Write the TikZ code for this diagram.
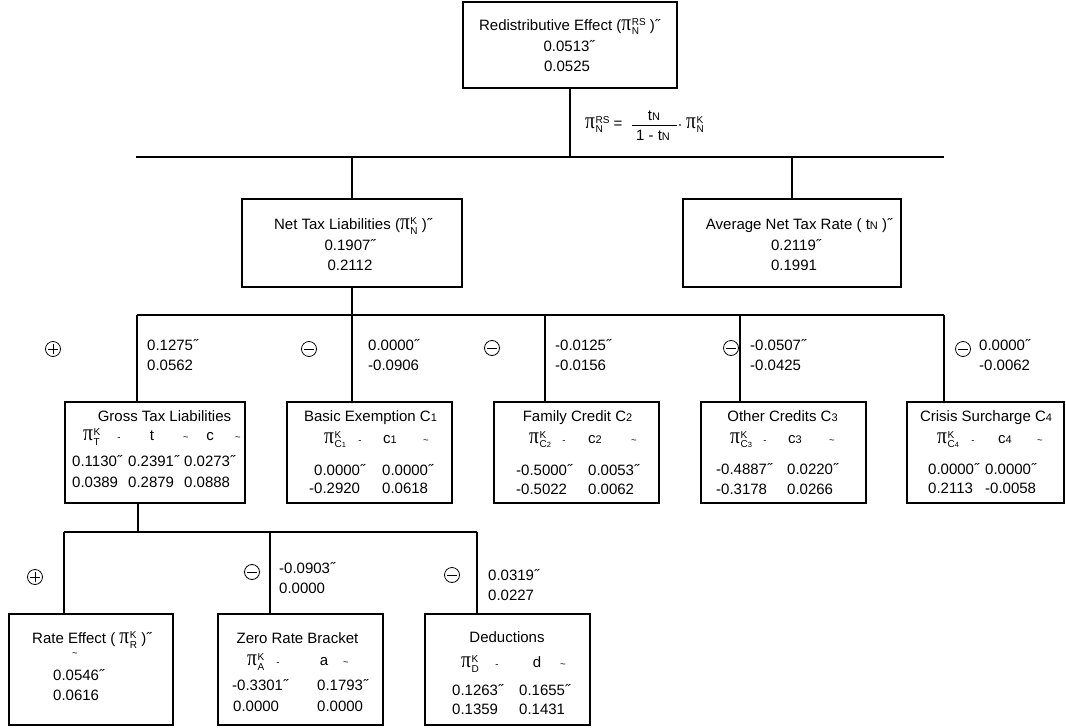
\documentclass[tikz,border=0pt]{standalone}
\usepackage{fontspec}
\setmainfont{Liberation Sans}
\newfontfamily\pifont{Liberation Serif}
\usepackage{graphicx}
\newcommand{\Fz}{\fontsize{15}{18}\selectfont}
\newcommand{\ssz}{\fontsize{10}{7.5}\selectfont}
\newcommand{\msz}{\fontsize{9.5}{9.5}\selectfont}
\newcommand{\pig}{{\pifont\scalebox{1.3}[1.55]{π}}}
\newcommand{\PIS}[2]{\pig\kern0.6pt\raisebox{-4.5pt}{\ssz\begin{tabular}[b]{@{}l@{}}#1\\#2\end{tabular}}}
\newcommand{\sN}[1]{{\fontsize{11}{12}\selectfont #1}}
\newcommand{\sNs}[1]{{\fontsize{7.5}{7.5}\selectfont #1}}
\newcommand{\dsh}{{\msz -}}
\newcommand{\tld}{{\msz\textasciitilde}}
\begin{document}
\begin{tikzpicture}[x=1pt,y=-1pt,
  bx/.style={draw, line width=1.3pt, inner sep=0pt},
  ln/.style={line width=1.3pt},
  tx/.style={font=\Fz, inner sep=0pt, text height=11pt, text depth=0pt},
  sg/.style={circle, draw, line width=0.8pt, minimum size=15pt, inner sep=0pt},
  pl/.style={sg, path picture={\draw[line width=0.8pt] ([xshift=-5pt]path picture bounding box.center) -- ([xshift=5pt]path picture bounding box.center) ([yshift=-5pt]path picture bounding box.center) -- ([yshift=5pt]path picture bounding box.center);}},
  mi/.style={sg, path picture={\draw[line width=0.8pt] ([xshift=-5pt]path picture bounding box.center) -- ([xshift=5pt]path picture bounding box.center);}}]
\fill[white] (0,0) rectangle (1066,728);
\useasboundingbox (0,0) rectangle (1066,728);

% boxes
\node[bx, minimum width=214pt, minimum height=86pt] (top) at (570,45) {};
\node[bx, minimum width=220pt, minimum height=88pt] (net) at (352,243) {};
\node[bx, minimum width=218pt, minimum height=88pt] (avg) at (792,243) {};
\node[bx, minimum width=180pt, minimum height=101pt] (gross) at (155,452.5) {};
\node[bx, minimum width=165pt, minimum height=101pt] (basic) at (369.5,452.5) {};
\node[bx, minimum width=165pt, minimum height=101pt] (family) at (576.5,452.5) {};
\node[bx, minimum width=165pt, minimum height=101pt] (other) at (783.5,452.5) {};
\node[bx, minimum width=157pt, minimum height=101pt] (crisis) at (985.5,452.5) {};
\node[bx, minimum width=164pt, minimum height=111pt] (rate) at (91,669.5) {};
\node[bx, minimum width=165pt, minimum height=111pt] (zero) at (300.5,669.5) {};
\node[bx, minimum width=165pt, minimum height=111pt] (ded) at (507.5,669.5) {};

% level 1 -> 2
\coordinate (h1l) at (136,157);
\coordinate (h1r) at (944,157);
\draw[ln] (top.south) -- (top.south |- h1l);
\draw[ln] (h1l) -- (h1r);
\draw[ln] (net.north |- h1l) -- (net.north);
\draw[ln] (avg.north |- h1l) -- (avg.north);

% level 2 -> 3
\coordinate (v1) at (137,315);
\coordinate (v2) at (352,315);
\coordinate (v3) at (545,315);
\coordinate (v4) at (740,315);
\coordinate (v5) at (944,315);
\draw[ln] (net.south) -- (v2);
\draw[ln] (v1) -- (v5);
\draw[ln] (v1) -- (v1 |- gross.north);
\draw[ln] (v2) -- (v2 |- basic.north);
\draw[ln] (v3) -- (v3 |- family.north);
\draw[ln] (v4) -- (v4 |- other.north);
\draw[ln] (v5) -- (v5 |- crisis.north);

% level 3 -> 4
\coordinate (g0) at (138,532);
\coordinate (w1) at (64,532);
\coordinate (w2) at (270,532);
\coordinate (w3) at (477,532);
\draw[ln] (g0 |- gross.south) -- (g0);
\draw[ln] (w1) -- (w3);
\draw[ln] (w1) -- (w1 |- rate.north);
\draw[ln] (w2) -- (w2 |- zero.north);
\draw[ln] (w3) -- (w3 |- ded.north);

% top box text
\node[tx] (t1) at (569.5,25) {Redistributive Effect (\PIS{RS}{N} )˝};
\node[tx] (t2) at (569,46) {0.0513˝};
\node[tx] (t3) at (567,66) {0.0525};

% formula
\node[tx,anchor=west] (f1) at (585,122.5) {\PIS{RS}{N}\kern4pt=};
\node[tx] (f2) at (654,115) {t\sN{N}};
\node[tx] (f3) at (653,135) {1 - t\sN{N}};
\draw[line width=0.8pt] (632,125) -- (677,125);
\node[tx] (f4) at (680,124) {·};
\node[tx,anchor=west] (f5) at (686,122.5) {\PIS{K}{N}};

% net / avg
\node[tx] (n1) at (353,224) {Net Tax Liabilities (\PIS{K}{N} )˝};
\node[tx] (n2) at (350,245) {0.1907˝};
\node[tx] (n3) at (350,265) {0.2112};
\node[tx] (r1) at (799,224) {Average Net Tax Rate ( t\sN{N} )˝};
\node[tx] (r2) at (796,245) {0.2119˝};
\node[tx] (r3) at (794,265) {0.1991};

% level 3 labels
\node[pl] (s1) at (53,349) {};
\node[tx,anchor=west] (a1) at (147,345) {0.1275˝};
\node[tx,anchor=west] (b1) at (147,365) {0.0562};
\node[mi] (s2) at (309,349) {};
\node[tx,anchor=west] (a2) at (368,345) {0.0000˝};
\node[tx,anchor=west] (b2) at (368,365) {-0.0906};
\node[mi] (s3) at (492,348) {};
\node[tx,anchor=west] (a3) at (555,345) {-0.0125˝};
\node[tx,anchor=west] (b3) at (555,365) {-0.0156};
\node[mi] (s4) at (731,348) {};
\node[tx,anchor=west] (a4) at (750,345) {-0.0507˝};
\node[tx,anchor=west] (b4) at (750,365) {-0.0425};
\node[mi] (s5) at (963,349) {};
\node[tx,anchor=west] (a5) at (979,345) {0.0000˝};
\node[tx,anchor=west] (b5) at (979,365) {-0.0062};

% gross
\node[tx] (g1) at (164.5,415.5) {Gross Tax Liabilities};
\node[tx,anchor=west] (g2) at (83,435) {\PIS{K}{T}};
\node[tx] (g3) at (119,435) {\dsh};
\node[tx] (g4) at (152,435) {t};
\node[tx] (g5) at (186,435) {\tld};
\node[tx] (g6) at (210,435) {c};
\node[tx] (g7) at (238,435) {\tld};
\node[tx,anchor=west] (g8) at (72,461) {0.1130˝};
\node[tx,anchor=west] (g9) at (128,461) {0.2391˝};
\node[tx,anchor=west] (g10) at (184,461) {0.0273˝};
\node[tx,anchor=west] (g11) at (72,482) {0.0389};
\node[tx,anchor=west] (g12) at (128,482) {0.2879};
\node[tx,anchor=west] (g13) at (184,482) {0.0888};

% basic
\node[tx] (c1) at (370.5,415.5) {Basic Exemption C\sN{1}};
\node[tx,anchor=west] (c2) at (324,437.5) {\PIS{K}{C\sNs{1}}};
\node[tx] (c3) at (360,437.5) {\dsh};
\node[tx,anchor=west] (c4) at (383,437.5) {c\sN{1}};
\node[tx] (c5) at (426,437.5) {\tld};
\node[tx,anchor=west] (c6) at (314,470) {0.0000˝};
\node[tx,anchor=west] (c7) at (382,470) {0.0000˝};
\node[tx,anchor=west] (c8) at (309,488) {-0.2920};
\node[tx,anchor=west] (c9) at (382,488) {0.0618};

% family
\node[tx] (d1) at (577.5,415.5) {Family Credit C\sN{2}};
\node[tx,anchor=west] (d2) at (529,437.5) {\PIS{K}{C\sNs{2}}};
\node[tx] (d3) at (564,437.5) {\dsh};
\node[tx,anchor=west] (d4) at (588,437.5) {c\sN{2}};
\node[tx] (d5) at (634,437.5) {\tld};
\node[tx,anchor=west] (d6) at (516,470) {-0.5000˝};
\node[tx,anchor=west] (d7) at (588,470) {0.0053˝};
\node[tx,anchor=west] (d8) at (516,489) {-0.5022};
\node[tx,anchor=west] (d9) at (588,489) {0.0062};

% other
\node[tx] (e1) at (782.5,415.5) {Other Credits C\sN{3}};
\node[tx,anchor=west] (e2) at (730,437.5) {\PIS{K}{C\sNs{3}}};
\node[tx] (e3) at (765,437.5) {\dsh};
\node[tx,anchor=west] (e4) at (788,437.5) {c\sN{3}};
\node[tx] (e5) at (832,437.5) {\tld};
\node[tx,anchor=west] (e6) at (716,469) {-0.4887˝};
\node[tx,anchor=west] (e7) at (787,469) {0.0220˝};
\node[tx,anchor=west] (e8) at (716,489) {-0.3178};
\node[tx,anchor=west] (e9) at (787,489) {0.0266};

% crisis
\node[tx] (k1) at (986,415.5) {Crisis Surcharge C\sN{4}};
\node[tx,anchor=west] (k2) at (937,437.5) {\PIS{K}{C\sNs{4}}};
\node[tx] (k3) at (973,437.5) {\dsh};
\node[tx,anchor=west] (k4) at (998,437.5) {c\sN{4}};
\node[tx] (k5) at (1040,437.5) {\tld};
\node[tx,anchor=west] (k6) at (928,469) {0.0000˝};
\node[tx,anchor=west] (k7) at (985,469) {0.0000˝};
\node[tx,anchor=west] (k8) at (928,488) {0.2113};
\node[tx,anchor=west] (k9) at (985,488) {-0.0058};

% level 4 labels
\node[pl] (s6) at (35,577) {};
\node[mi] (s7) at (252,572) {};
\node[tx,anchor=west] (a7) at (279,568) {-0.0903˝};
\node[tx,anchor=west] (b7) at (279,588) {0.0000};
\node[mi] (s8) at (452,575) {};
\node[tx,anchor=west] (a8) at (488,575) {0.0319˝};
\node[tx,anchor=west] (b8) at (488,595) {0.0227};

% rate
\node[tx,anchor=west] (m1) at (32,638) {Rate Effect ( \PIS{K}{R} )˝};
\node[tx] (m2) at (75,651) {\tld};
\node[tx,anchor=west] (m3) at (53,675) {0.0546˝};
\node[tx,anchor=west] (m4) at (53,695) {0.0616};

% zero
\node[tx] (z1) at (297.5,637.5) {Zero Rate Bracket};
\node[tx,anchor=west] (z2) at (247,660) {\PIS{K}{A}};
\node[tx] (z3) at (278,660) {\dsh};
\node[tx] (z4) at (324,660) {a};
\node[tx] (z5) at (346,660) {\tld};
\node[tx,anchor=west] (z6) at (232,685) {-0.3301˝};
\node[tx,anchor=west] (z7) at (317,685) {0.1793˝};
\node[tx,anchor=west] (z8) at (233,706) {0.0000};
\node[tx,anchor=west] (z9) at (317,706) {0.0000};

% deductions
\node[tx] (u1) at (507,637) {Deductions};
\node[tx,anchor=west] (u2) at (461,662) {\PIS{K}{D}};
\node[tx] (u3) at (497,662) {\dsh};
\node[tx] (u4) at (537,662) {d};
\node[tx] (u5) at (563,662) {\tld};
\node[tx,anchor=west] (u6) at (452,690) {0.1263˝};
\node[tx,anchor=west] (u7) at (519,690) {0.1655˝};
\node[tx,anchor=west] (u8) at (452,709) {0.1359};
\node[tx,anchor=west] (u9) at (519,709) {0.1431};
\end{tikzpicture}
\end{document}
